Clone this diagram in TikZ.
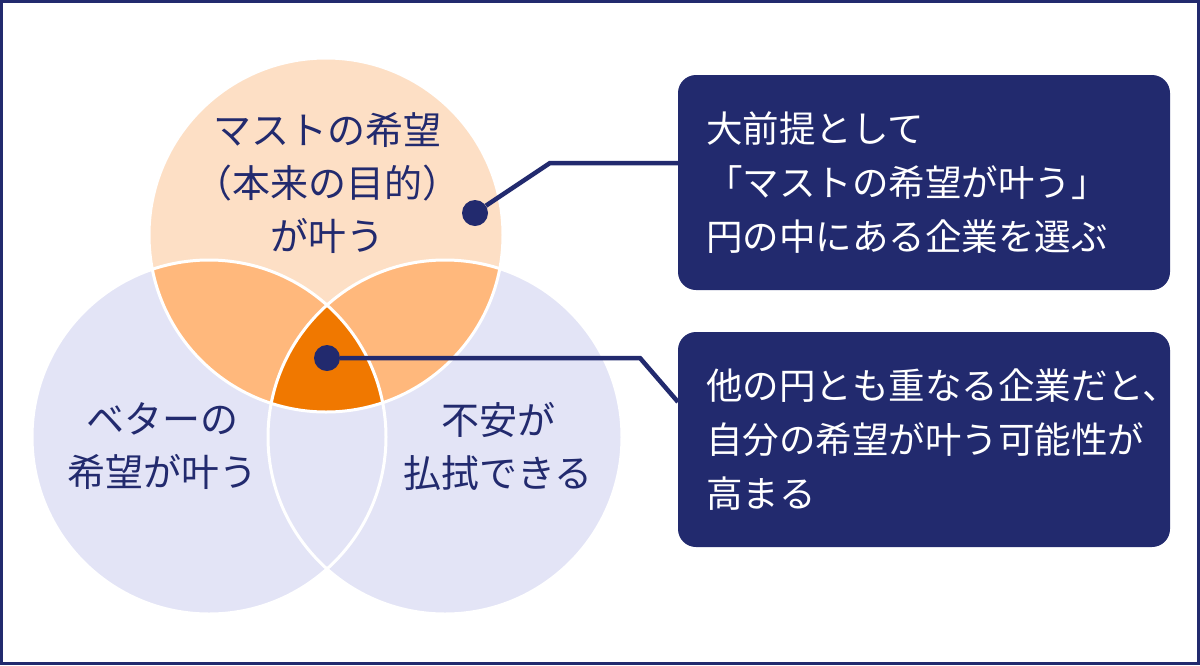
\documentclass[tikz,border=0pt]{standalone}
\usepackage{fontspec}
\setmainfont{Noto Sans CJK JP}
\definecolor{navy}{HTML}{222A6E}
\definecolor{peach}{HTML}{FDDFC5}
\definecolor{midorange}{HTML}{FFB87C}
\definecolor{deeporange}{HTML}{F07800}
\definecolor{lav}{HTML}{E3E4F6}
\tikzset{
  circtext/.style={text=navy, align=center, inner sep=0pt, font=\fontsize{38}{53}\selectfont},
  infobox/.style={fill=navy, rounded corners=18pt, minimum width=492pt, minimum height=215pt,
    text width=436pt, align=left, text=white, inner xsep=28pt, inner ysep=0pt,
    font=\fontsize{36.5}{54}\selectfont},
  dot/.style={circle, fill=navy, minimum size=26pt, inner sep=0pt},
  conn/.style={draw=navy, line width=4.5pt, line join=miter},
  sep/.style={draw=white, line width=3pt}
}
\begin{document}
\begin{tikzpicture}[x=1pt,y=-1pt]
\useasboundingbox (0,0) rectangle (1200,665);
\draw[navy, line width=3pt] (1.5,1.5) rectangle (1198.5,663.5);
\coordinate (cT) at (326,235);
\coordinate (cL) at (209,437);
\coordinate (cR) at (445,437);
\fill[lav] (cL) circle (177pt);
\fill[lav] (cR) circle (177pt);
\fill[peach] (cT) circle (177pt);
\begin{scope}
  \clip (cT) circle (177pt);
  \fill[midorange] (cL) circle (177pt);
  \fill[midorange] (cR) circle (177pt);
  \clip (cL) circle (177pt);
  \fill[deeporange] (cR) circle (177pt);
\end{scope}
\draw[sep] (cT) circle (177pt);
\draw[sep] (cL) circle (177pt);
\draw[sep] (cR) circle (177pt);
\node[circtext] (tT) at (327,183) {マストの希望\\（本来の目的）\\が叶う};
\node[circtext] (tL) at (162,446) {ベターの\\希望が叶う};
\node[circtext] (tR) at (498,446) {不安が\\払拭できる};
\node[infobox] (b1) at (924,182.5) {大前提として\\「マストの希望が叶う」\\円の中にある企業を選ぶ};
\node[infobox] (b2) at (924,439.5) {他の円とも重なる企業だと、\\自分の希望が叶う可能性が\\高まる};
\node[dot] (d1) at (475,213) {};
\node[dot] (d2) at (327,358) {};
\coordinate (k1) at (550,163);
\coordinate (k2) at (640,358);
\coordinate (e2) at (678,402);
\draw[conn] (d1) -- (k1) -- (k1 -| b1.west);
\draw[conn] (d2) -- (k2) -- (e2);
\end{tikzpicture}
\end{document}
